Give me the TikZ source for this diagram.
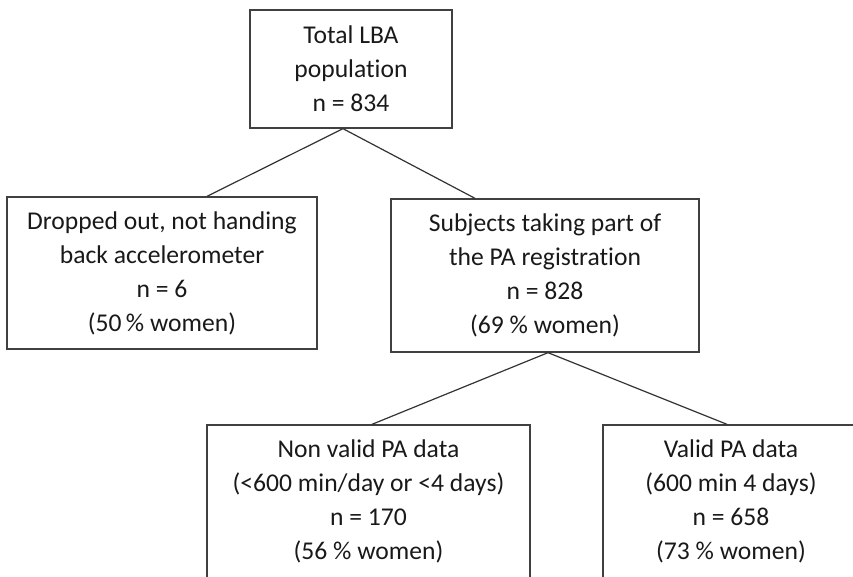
\documentclass[tikz,border=0pt]{standalone}
\usepackage{fontspec}
\setmainfont{Carlito}[Ligatures=NoCommon]

\begin{document}
\begin{tikzpicture}[x=0.75pt,y=-0.75pt,
  box/.style={draw=black!75,line width=1pt,text=black!90,align=center,
    inner sep=0pt,font=\fontsize{19.2}{25.5}\selectfont},
  link/.style={draw=black!80,line width=0.9pt}]
\useasboundingbox (0,0) rectangle (853,576);
\clip (0,0) rectangle (853,576);
\node[box,minimum width=151.5pt,minimum height=88.5pt] (total) at (351,69)
  {Total LBA\\population\\n = 834};
\node[box,minimum width=232.5pt,minimum height=114pt] (dropped) at (162,273)
  {Dropped out, not handing\\back accelerometer\\n = 6\\(50\,\% women)};
\node[box,minimum width=231pt,minimum height=114.75pt] (subjects) at (545,275.5)
  {Subjects taking part of\\the PA registration\\n = 828\\(69 \% women)};
\node[box,minimum width=242.25pt,minimum height=114.75pt] (nonvalid) at (368.5,501.5)
  {Non valid PA data\\(<600 min/day or <4 days)\\n = 170\\(56 \% women)};
\node[box,minimum width=192pt,minimum height=114.75pt] (valid) at (731,501.5)
  {Valid PA data\\(600 min 4 days)\\n = 658\\(73 \% women)};
\draw[link] ([xshift=-6pt]total.south)--([xshift=33.75pt]dropped.north)
  ([xshift=-6pt]total.south)--([xshift=-52.5pt]subjects.north);
\draw[link] ([xshift=2.25pt]subjects.south)--([xshift=2.6pt]nonvalid.north)
  ([xshift=2.25pt]subjects.south)--([xshift=-3pt]valid.north);
\end{tikzpicture}
\end{document}
